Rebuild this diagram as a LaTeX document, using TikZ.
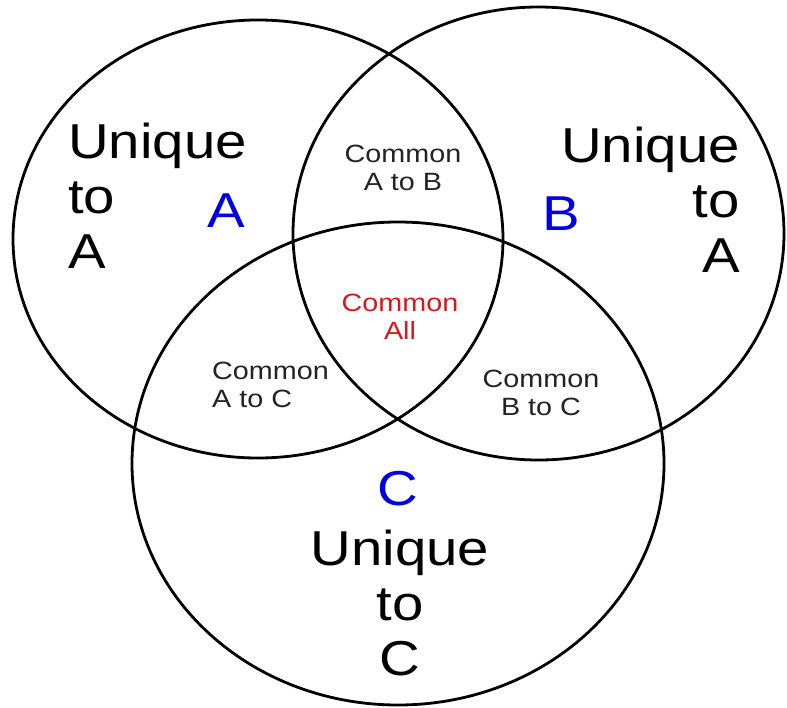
\documentclass[tikz,border=0pt]{standalone}
\usepackage{fontspec}
\setmainfont[FakeStretch=1.15]{Liberation Sans}
\definecolor{setblue}{RGB}{0,0,225}
\definecolor{allred}{RGB}{215,25,30}
\definecolor{labelgray}{RGB}{35,35,35}
\tikzset{
  ring/.style={line width=2.8pt},
  big/.style={inner sep=0pt, font=\fontsize{49}{55}\selectfont},
  small/.style={inner sep=0pt, text=labelgray, font=\fontsize{25}{27.5}\selectfont},
  setname/.style={inner sep=0pt, anchor=base, text=setblue, font=\fontsize{49}{55}\selectfont}
}
\begin{document}
\begin{tikzpicture}[x=1pt, y=-1pt]
  \useasboundingbox (0,0) rectangle (787,707);
  % the three sets
  \draw[ring] (258,239) ellipse [x radius=245, y radius=219];
  \draw[ring] (538.5,233.5) ellipse [x radius=245.5, y radius=226.5];
  \draw[ring] (398,463.5) ellipse [x radius=266, y radius=241.5];
  % set names
  \node[setname] (nameA) at (226,227) {A};
  \node[setname] (nameB) at (561,230) {B};
  \node[setname] (nameC) at (398,505) {C};
  % unique parts
  \node[big, anchor=north west, align=left] (uniqA) at (68,123) {Unique\\to\\A};
  \node[big, anchor=north east, align=right] (uniqB) at (740,127) {Unique\\to\\A};
  \node[big, anchor=north, align=center] (uniqC) at (400,530) {Unique\\to\\C};
  % overlaps
  \node[small, anchor=north, align=center] (commAB) at (403,145) {Common\\A to B};
  \node[small, anchor=north west, align=left] (commAC) at (212,362) {Common\\A to C};
  \node[small, anchor=north, align=center] (commBC) at (541,370) {Common\\B to C};
  \node[small, anchor=north, align=center, text=allred] (commAll) at (400,294) {Common\\All};
\end{tikzpicture}
\end{document}
